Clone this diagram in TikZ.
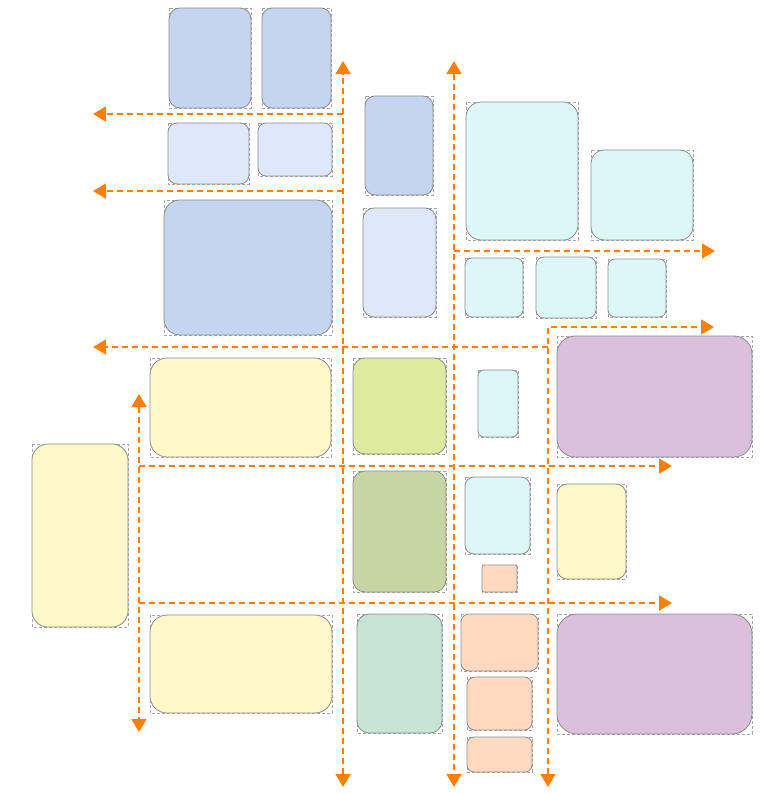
\documentclass[tikz,border=0pt]{standalone}
\usetikzlibrary{arrows.meta}
\definecolor{dblue}{RGB}{197,213,239}
\definecolor{lblue}{RGB}{222,232,250}
\definecolor{cyanb}{RGB}{221,247,247}
\definecolor{yell}{RGB}{253,249,201}
\definecolor{lime}{RGB}{221,234,160}
\definecolor{olive}{RGB}{199,213,165}
\definecolor{teal2}{RGB}{199,229,214}
\definecolor{peach}{RGB}{255,218,192}
\definecolor{purp}{RGB}{218,192,218}
\definecolor{orng}{RGB}{255,128,0}
\definecolor{bord}{RGB}{140,140,140}
\definecolor{frm}{RGB}{165,165,165}
\tikzset{
  frame/.style={draw=frm, line width=0.6pt, dash pattern=on 3pt off 2pt},
  blk/.style={draw=bord, line width=0.8pt, inner sep=0pt, outer sep=0pt},
  flow/.style={draw=orng, line width=1.6pt, dash pattern=on 6pt off 4pt,
    -{Triangle[length=13pt,width=15pt]}},
  flow2/.style={draw=orng, line width=1.6pt, dash pattern=on 6pt off 4pt,
    {Triangle[length=13pt,width=15pt]}-{Triangle[length=13pt,width=15pt]}}
}
\newcommand{\blkbox}[7]{%
  \draw[frame] (#2,#3) rectangle (#4,#5);
  \node[blk, fill=#6, rounded corners=#7pt, minimum width={#4-#2}, minimum height={#5-#3}]
    (#1) at ({(#2+#4)/2},{(#3+#5)/2}) {};
}
\begin{document}
\begin{tikzpicture}[x=1pt,y=-1pt]
\useasboundingbox[fill=white] (0,0) rectangle (769,793);
% blocks
\blkbox{A}{169}{8}{251}{108}{dblue}{11}
\blkbox{B}{262}{8}{331}{108}{dblue}{10}
\blkbox{C}{168}{123}{249}{184}{lblue}{9}
\blkbox{D}{258}{123}{332}{176}{lblue}{8}
\blkbox{E}{164}{200}{332}{335}{dblue}{16}
\blkbox{F}{365}{96}{433}{195}{dblue}{10}
\blkbox{G}{363}{208}{436}{317}{lblue}{11}
\blkbox{H}{466}{102}{578}{240}{cyanb}{15}
\blkbox{I}{591}{150}{693}{240}{cyanb}{13}
\blkbox{J}{465}{258}{523}{317}{cyanb}{7}
\blkbox{K}{536}{257}{596}{318}{cyanb}{8}
\blkbox{L}{608}{259}{666}{317}{cyanb}{7}
\blkbox{M}{557}{336}{752}{457}{purp}{18}
\blkbox{N}{150}{358}{331}{457}{yell}{17}
\blkbox{O}{353}{358}{446}{454}{lime}{12}
\blkbox{P}{478}{370}{518}{437}{cyanb}{6}
\blkbox{Q}{32}{444}{128}{627}{yell}{16}
\blkbox{R}{353}{471}{446}{592}{olive}{12}
\blkbox{S}{465}{477}{530}{554}{cyanb}{9}
\blkbox{T}{557}{484}{626}{579}{yell}{10}
\blkbox{U}{482}{565}{517}{592}{peach}{2}
\blkbox{V}{150}{615}{332}{713}{yell}{17}
\blkbox{W}{357}{614}{442}{733}{teal2}{12}
\blkbox{X}{461}{614}{538}{671}{peach}{8}
\blkbox{Y}{467}{677}{532}{730}{peach}{8}
\blkbox{Z}{467}{737}{532}{772}{peach}{7}
\blkbox{AA}{557}{614}{752}{734}{purp}{20}
% coordinates for flows
\coordinate (v1t) at (343,61);  \coordinate (v1b) at (343,787);
\coordinate (v2t) at (454,61);  \coordinate (v2b) at (454,787);
\coordinate (v3b) at (548,787); \coordinate (v3t) at (548,327);
\coordinate (r327) at (714,327);
\coordinate (v4t) at (139,394); \coordinate (v4b) at (139,732);
\coordinate (s114) at (343,114); \coordinate (e114) at (93,114);
\coordinate (s191) at (343,191); \coordinate (e191) at (93,191);
\coordinate (s347) at (548,347); \coordinate (e347) at (93,347);
\coordinate (s251) at (454,251); \coordinate (e251) at (715,251);
\coordinate (s466) at (139,466); \coordinate (e466) at (672,466);
\coordinate (s603) at (139,603); \coordinate (e603) at (672,603);
% flows
\draw[flow2] (v1b) -- (v1t);
\draw[flow2] (v2t) -- (v2b);
\draw[flow2] (v3b) -- (v3t) -- (r327);
\draw[flow2] (v4t) -- (v4b);
\draw[flow] (s114) -- (e114);
\draw[flow] (s191) -- (e191);
\draw[flow] (s347) -- (e347);
\draw[flow] (s251) -- (e251);
\draw[flow] (s466) -- (e466);
\draw[flow] (s603) -- (e603);
\end{tikzpicture}
\end{document}
